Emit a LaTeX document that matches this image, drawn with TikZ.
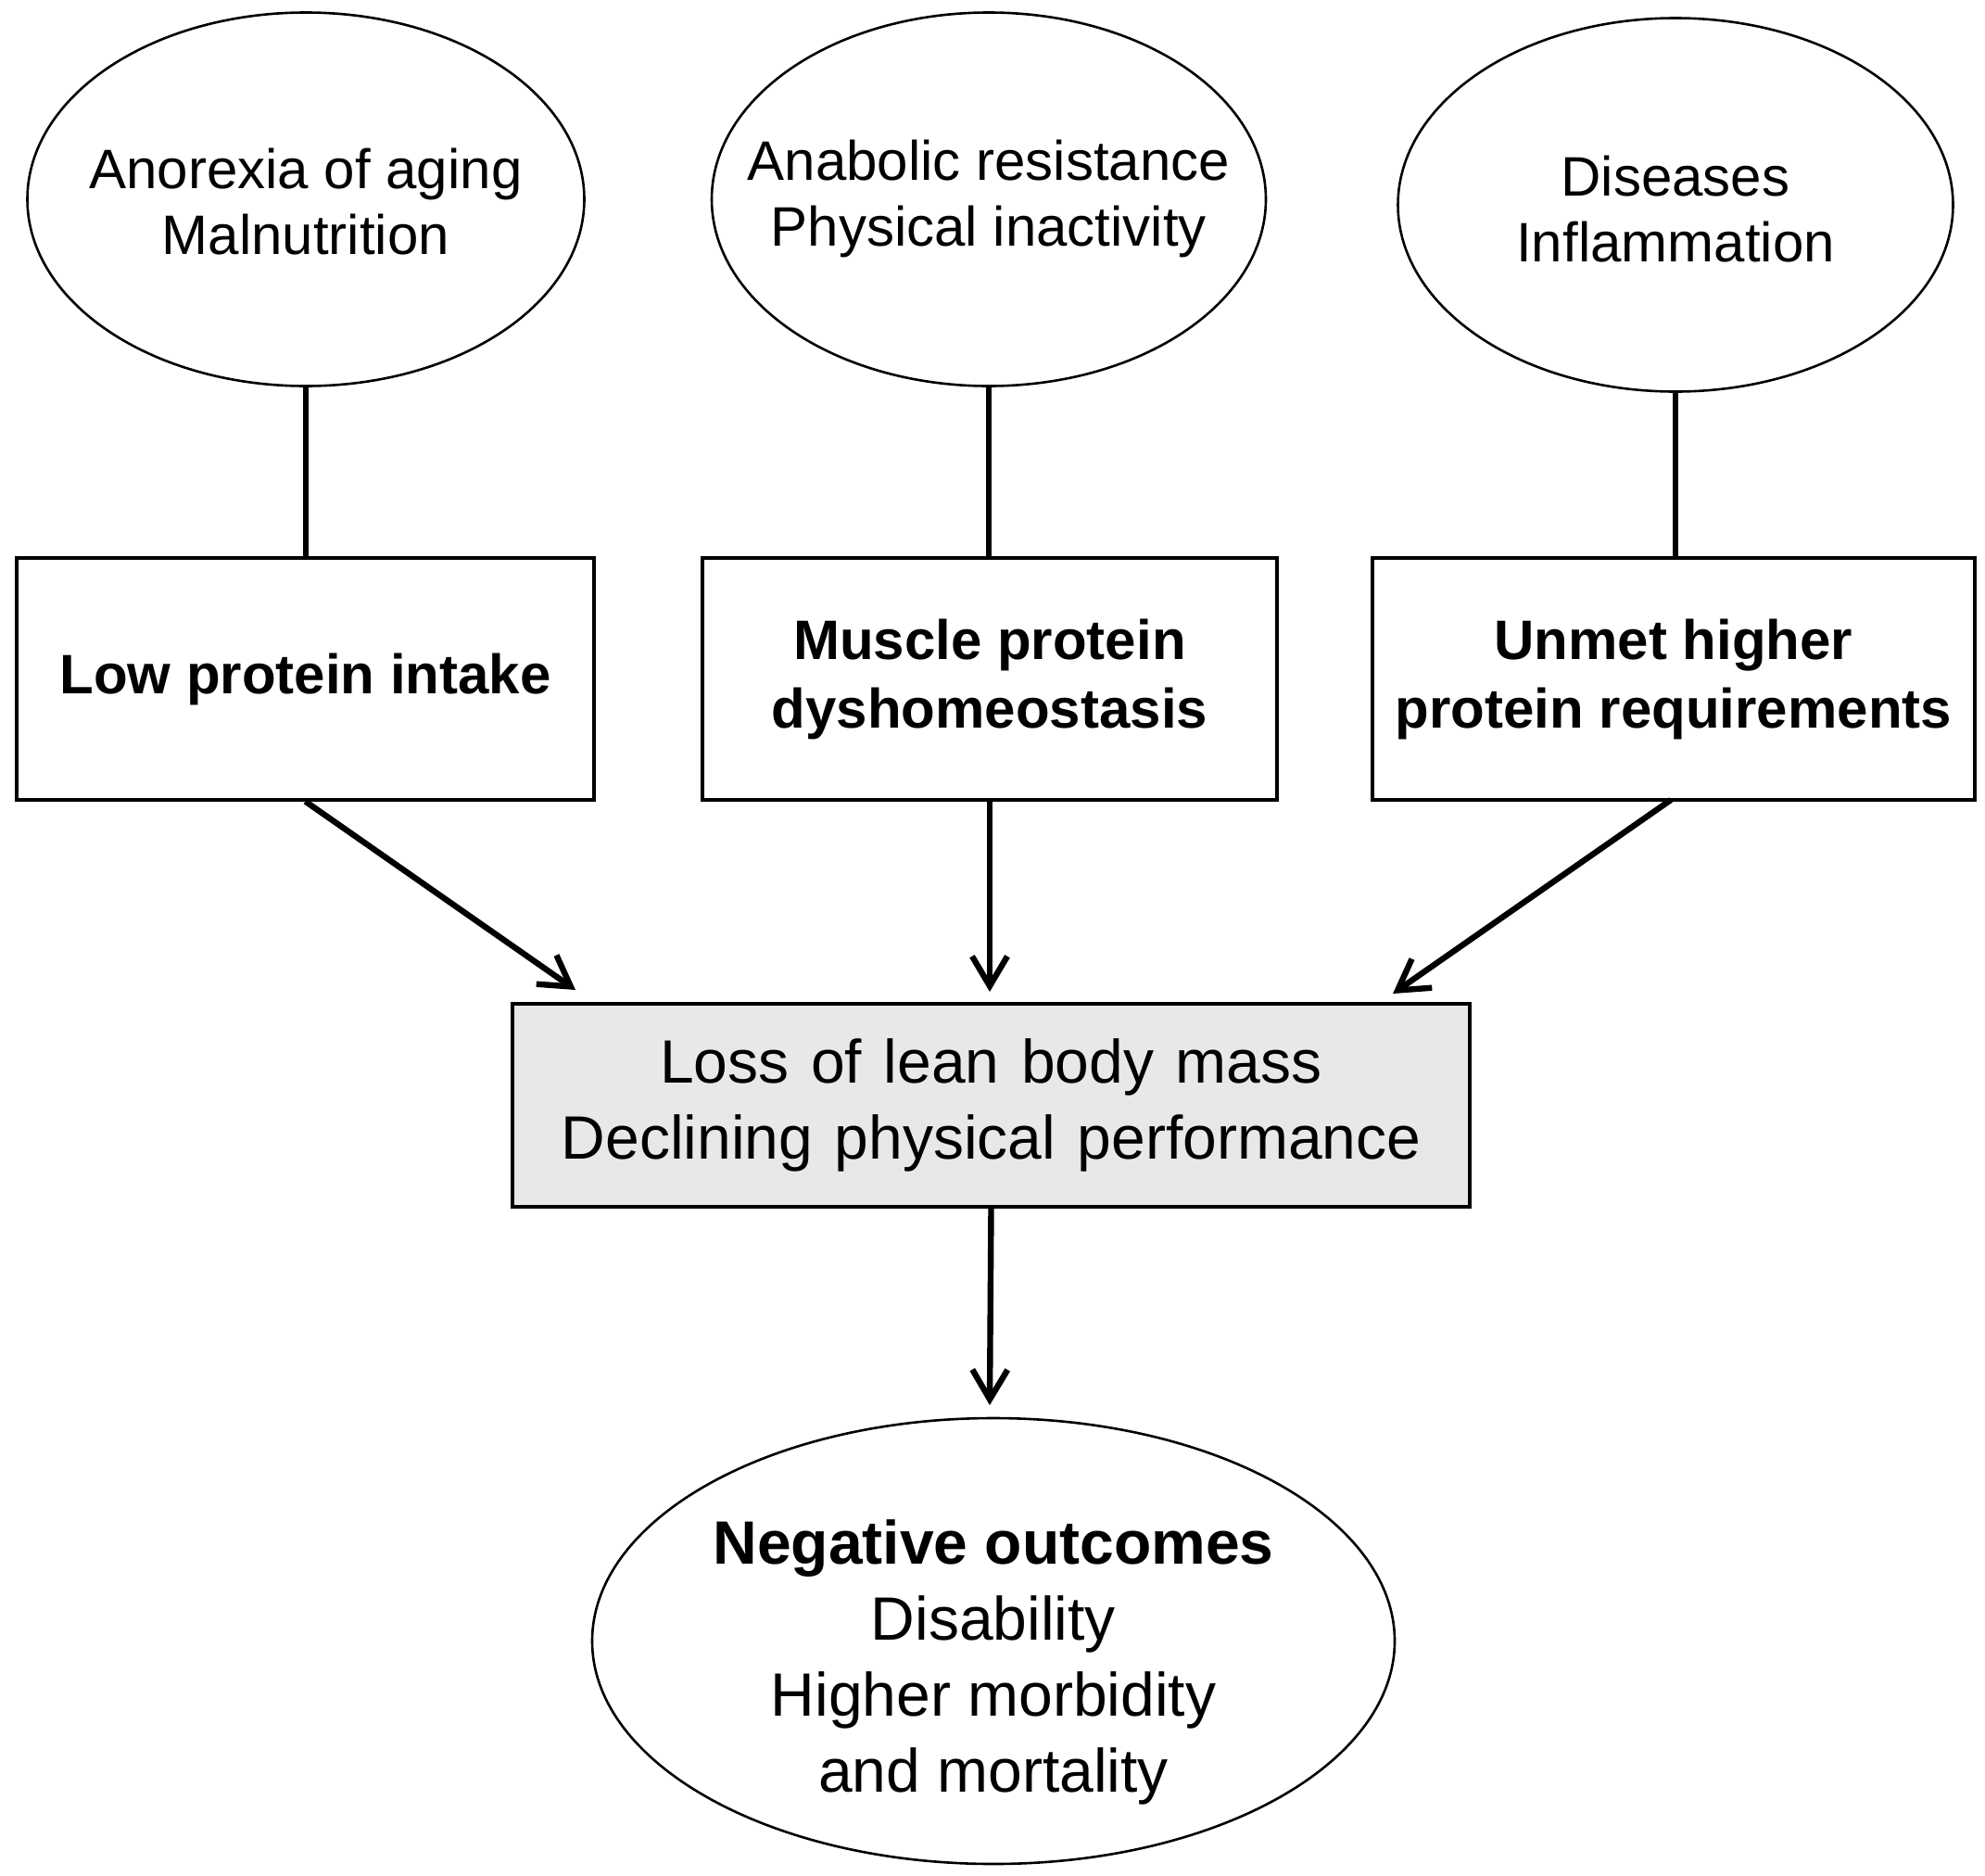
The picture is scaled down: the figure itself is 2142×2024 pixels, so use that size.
\documentclass[tikz,border=0pt]{standalone}
\usepackage{fontspec}
\setmainfont{Liberation Sans}
\usetikzlibrary{shapes.geometric,arrows.meta}
\definecolor{boxgrey}{HTML}{E8E8E8}
\begin{document}
\begin{tikzpicture}[x=0.5pt,y=-0.5pt,
  ell/.style={draw,ellipse,line width=1.3pt,inner sep=0pt},
  etext/.style={align=center,inner sep=0pt,font=\fontsize{30}{35.5}\selectfont},
  cbox/.style={draw,rectangle,line width=1.6pt,inner sep=0pt,minimum height=130.5pt,align=center,font=\bfseries\fontsize{30}{37}\selectfont},
  gbox/.style={draw,rectangle,fill=boxgrey,line width=1.6pt,inner sep=0pt,minimum width=516.5pt,minimum height=109.5pt,align=center,font={\fontsize{33}{41}\selectfont\spaceskip=11.8pt\relax}},
  link/.style={line width=3pt},
  arr/.style={line width=3.2pt,-{Straight Barb[length=16pt,width=19pt]}}]
\useasboundingbox (0,0) rectangle (2142,2024);
% top ellipses
\node[ell,minimum width=300.5pt,minimum height=201.5pt] (e1) at (330,215) {};
\node[etext] (t1) at (330,218) {Anorexia of aging\\Malnutrition};
\node[ell,minimum width=299pt,minimum height=201.5pt] (e2) at (1067,215) {};
\node[etext] (t2) at (1067,214) {Anabolic resistance\\Physical inactivity};
\node[ell,minimum width=299.5pt,minimum height=201.5pt] (e3) at (1808,221) {};
\node[etext] (t3) at (1808,226) {Diseases\\Inflammation};
% boxes
\node[cbox,minimum width=311.5pt] (b1) at (329.5,732.5) {Low protein intake};
\node[cbox,minimum width=310pt] (b2) at (1068,732.5) {Muscle protein\\dyshomeostasis};
\node[cbox,minimum width=325pt] (b3) at (1806,732.5) {Unmet higher\\protein requirements};
% grey box
\node[gbox] (g) at (1069.5,1192.5) {Loss of lean body mass\\Declining physical performance};
% bottom ellipse
\node[ell,minimum width=433pt,minimum height=240.5pt] (e4) at (1072,1770.5) {};
\node[etext,font=\fontsize{33}{41}\selectfont] (t4) at (1072,1793) {\textbf{Negative outcomes}\\Disability\\Higher morbidity\\and mortality};
% connectors
\draw[link] (e1.south) -- (e1.south |- b1.north);
\draw[link] (e2.south) -- (e2.south |- b2.north);
\draw[link] (e3.south) -- (e3.south |- b3.north);
\coordinate (a1) at (621,1068);
\coordinate (a2) at (1068,1070);
\coordinate (a3) at (1503,1072);
\coordinate (a4) at (1068,1516);
\coordinate (s3) at (1803,863);
\draw[arr] (b1.south) -- (a1);
\draw[arr] (b2.south) -- (a2);
\draw[arr] (s3) -- (a3);
\draw[arr] (g.south) -- (a4);
\end{tikzpicture}
\end{document}
